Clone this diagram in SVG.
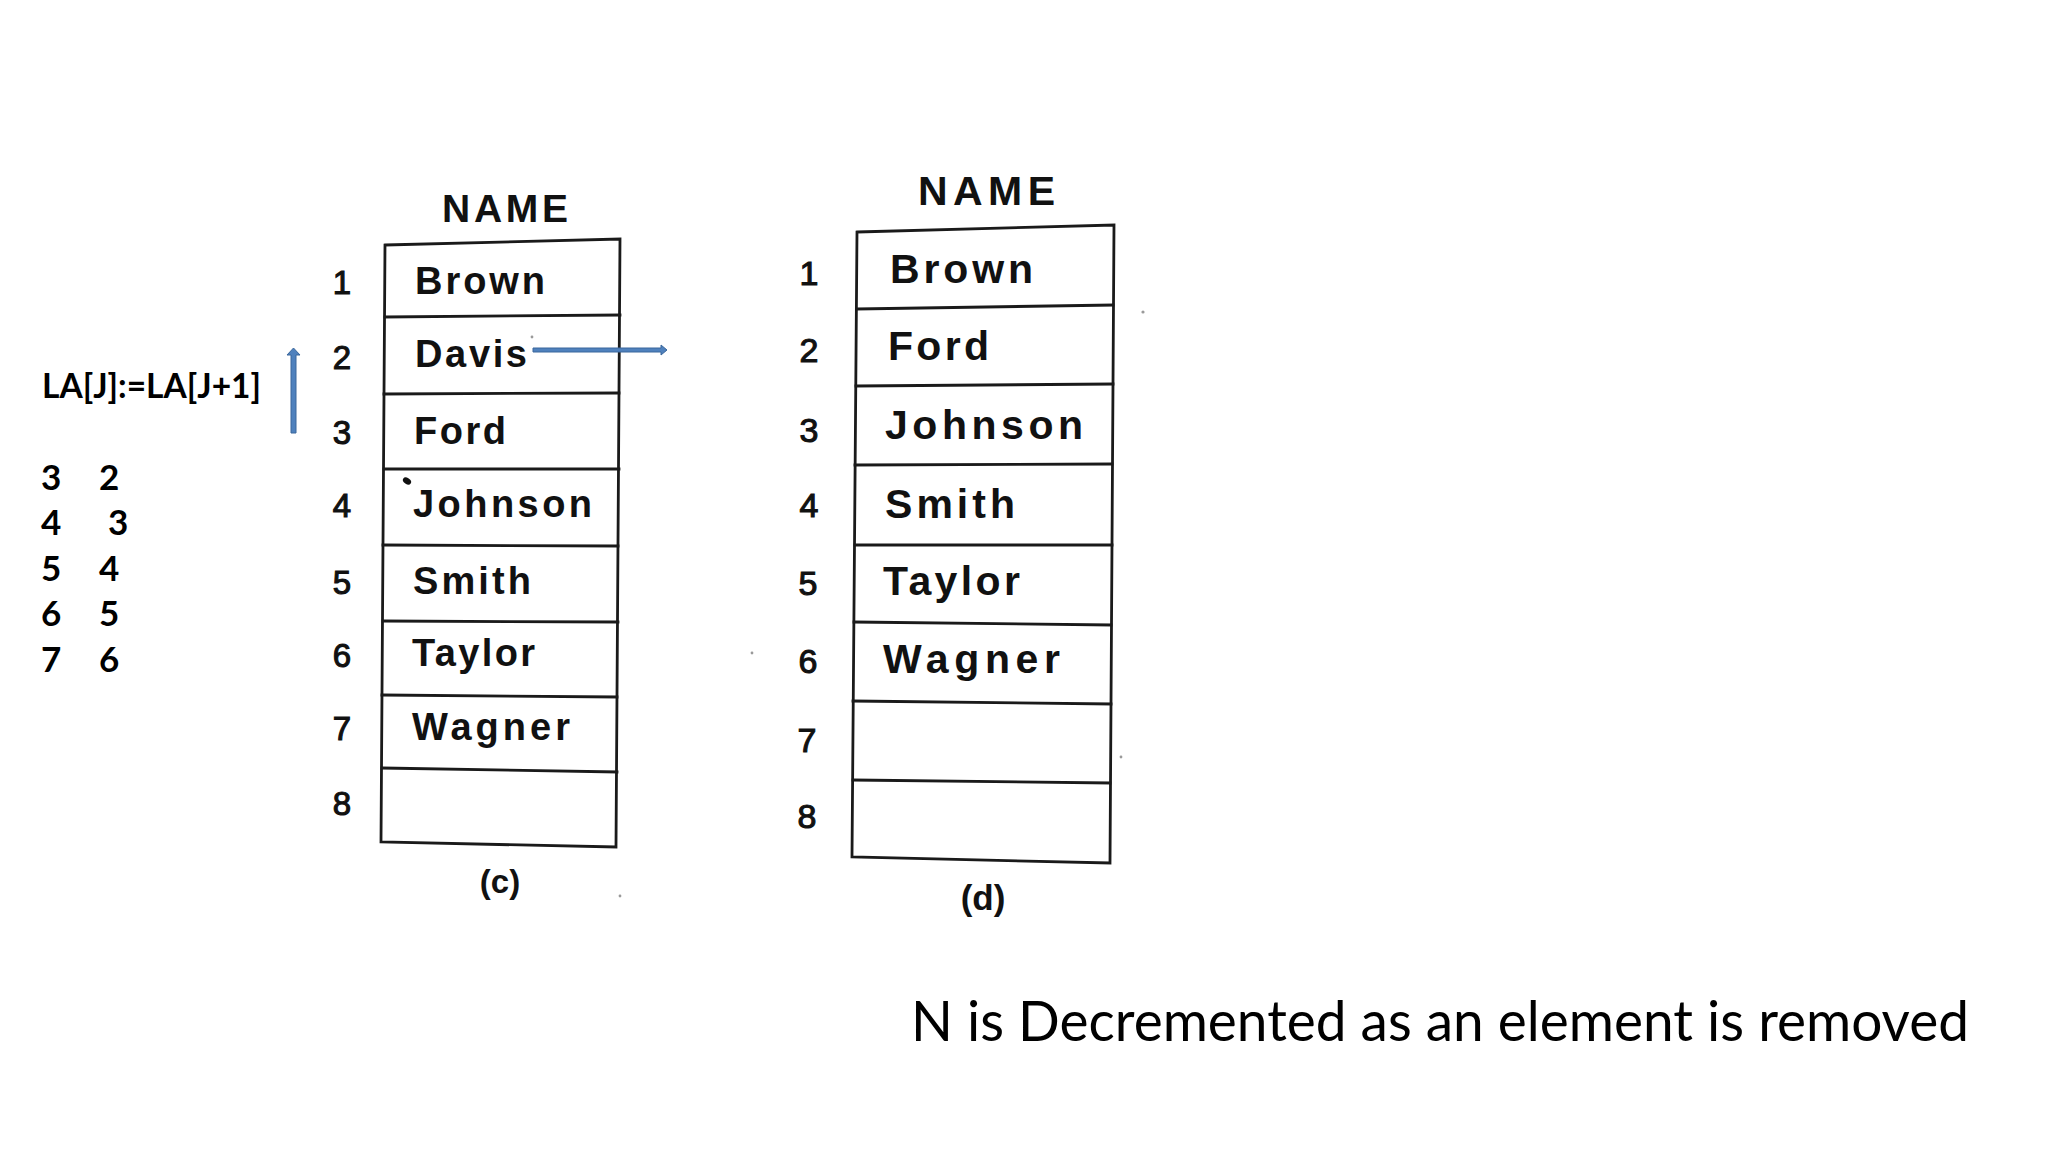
<svg xmlns="http://www.w3.org/2000/svg" width="2048" height="1152" viewBox="0 0 2048 1152">
<style>
.bg{fill:#ffffff}
.ln{stroke:#1a1a1a;stroke-width:2.8;fill:none;stroke-linecap:square}
.nm{font-family:"Liberation Sans",Arial,sans-serif;font-weight:bold;fill:#111111}
.ix{font-family:"Liberation Sans",Arial,sans-serif;font-weight:normal;fill:#111111;stroke:#111111;stroke-width:1.1;text-anchor:middle}
.hd{font-family:"Liberation Sans",Arial,sans-serif;font-weight:bold;fill:#111111}
.cap{font-family:"Liberation Sans",Arial,sans-serif;font-weight:bold;fill:#111111;text-anchor:middle}
.cb{font-family:Lato,"Open Sans","Liberation Sans",sans-serif;font-weight:bold;fill:#000000}
.note{font-family:Lato,"Open Sans","Liberation Sans",sans-serif;font-weight:normal;fill:#000000}
.arr{fill:#4F81BD;stroke:#3A679C;stroke-width:1}
.dot{fill:#9a9a9a}
</style>
<rect class="bg" x="0" y="0" width="2048" height="1152"/>

<g id="code-text">
  <text class="cb" x="42" y="398" font-size="34" textLength="219" lengthAdjust="spacingAndGlyphs">LA[J]:=LA[J+1]</text>
</g>
<g id="index-pairs">
  <text class="cb" x="41" y="490" font-size="35">3</text><text class="cb" x="99" y="490" font-size="35">2</text>
  <text class="cb" x="41" y="535" font-size="35">4</text><text class="cb" x="108" y="535" font-size="35">3</text>
  <text class="cb" x="41" y="581" font-size="35">5</text><text class="cb" x="99" y="581" font-size="35">4</text>
  <text class="cb" x="41" y="626" font-size="35">6</text><text class="cb" x="99" y="626" font-size="35">5</text>
  <text class="cb" x="41" y="672" font-size="35">7</text><text class="cb" x="99" y="672" font-size="35">6</text>
</g>

<g id="table-c">
  <text class="hd" x="442" y="222" font-size="39" textLength="126">NAME</text>
  <path class="ln" d="M385,245 L620,239 L616,847 L381,842 Z"/>
  <line class="ln" x1="385" y1="317" x2="620" y2="315"/>
  <line class="ln" x1="384" y1="394" x2="619" y2="393"/>
  <line class="ln" x1="384" y1="469" x2="619" y2="469"/>
  <line class="ln" x1="383" y1="545" x2="618" y2="546"/>
  <line class="ln" x1="383" y1="621" x2="618" y2="622"/>
  <line class="ln" x1="382" y1="695" x2="617" y2="697"/>
  <line class="ln" x1="382" y1="768" x2="617" y2="772"/>
  <text class="ix" x="342" y="294" font-size="33">1</text>
  <text class="ix" x="342" y="369" font-size="33">2</text>
  <text class="ix" x="342" y="444" font-size="33">3</text>
  <text class="ix" x="342" y="517" font-size="33">4</text>
  <text class="ix" x="342" y="594" font-size="33">5</text>
  <text class="ix" x="342" y="667" font-size="33">6</text>
  <text class="ix" x="342" y="740" font-size="33">7</text>
  <text class="ix" x="342" y="815" font-size="33">8</text>
  <text class="nm" x="415" y="294" font-size="38" textLength="130">Brown</text>
  <text class="nm" x="415" y="367" font-size="38" textLength="112">Davis</text>
  <text class="nm" x="414" y="444" font-size="38" textLength="92">Ford</text>
  <text class="nm" x="413" y="517" font-size="38" textLength="179">Johnson</text>
  <text class="nm" x="413" y="594" font-size="38" textLength="118">Smith</text>
  <text class="nm" x="412" y="666" font-size="38" textLength="123">Taylor</text>
  <text class="nm" x="412" y="740" font-size="38" textLength="158">Wagner</text>
  <ellipse cx="407" cy="481" rx="4.5" ry="3" transform="rotate(35 407 481)" fill="#111111"/>
  <text class="cap" x="500" y="893" font-size="33">(c)</text>
</g>

<g id="table-d">
  <text class="hd" x="918" y="205" font-size="41" textLength="137">NAME</text>
  <path class="ln" d="M857,232 L1114,225 L1110,863 L852,857 Z"/>
  <line class="ln" x1="857" y1="309" x2="1113" y2="305"/>
  <line class="ln" x1="856" y1="386" x2="1113" y2="384"/>
  <line class="ln" x1="855" y1="465" x2="1112" y2="464"/>
  <line class="ln" x1="855" y1="545" x2="1112" y2="545"/>
  <line class="ln" x1="854" y1="622" x2="1111" y2="625"/>
  <line class="ln" x1="853" y1="701" x2="1111" y2="704"/>
  <line class="ln" x1="853" y1="780" x2="1110" y2="783"/>
  <text class="ix" x="809" y="285" font-size="34">1</text>
  <text class="ix" x="809" y="362" font-size="34">2</text>
  <text class="ix" x="809" y="442" font-size="34">3</text>
  <text class="ix" x="809" y="517" font-size="34">4</text>
  <text class="ix" x="808" y="595" font-size="34">5</text>
  <text class="ix" x="808" y="673" font-size="34">6</text>
  <text class="ix" x="807" y="752" font-size="34">7</text>
  <text class="ix" x="807" y="828" font-size="34">8</text>
  <text class="nm" x="890" y="283" font-size="41" textLength="143">Brown</text>
  <text class="nm" x="888" y="360" font-size="41" textLength="101">Ford</text>
  <text class="nm" x="885" y="439" font-size="41" textLength="198">Johnson</text>
  <text class="nm" x="885" y="518" font-size="41" textLength="130">Smith</text>
  <text class="nm" x="883" y="595" font-size="41" textLength="137">Taylor</text>
  <text class="nm" x="883" y="673" font-size="41" textLength="177">Wagner</text>
  <text class="cap" x="983" y="910" font-size="35">(d)</text>
</g>

<g id="connectors">
  <polygon class="arr" points="291,433 296,433 296,355 300,355 293.5,348 287,355 291,355"/>
  <polygon class="arr" points="533,348 661,348 661,345 667,350 661,355 661,352 533,352"/>
</g>

<g id="caption">
  <text class="note" x="911" y="1041" font-size="56" textLength="1058" lengthAdjust="spacingAndGlyphs">N is Decremented as an element is removed</text>
</g>

<g id="specks">
  <circle class="dot" cx="1143" cy="312" r="1.6"/>
  <circle class="dot" cx="752" cy="653" r="1.4"/>
  <circle class="dot" cx="620" cy="896" r="1.4"/>
  <circle class="dot" cx="1121" cy="757" r="1.4"/>
  <circle class="dot" cx="532" cy="337" r="1.4"/>
</g>
</svg>
